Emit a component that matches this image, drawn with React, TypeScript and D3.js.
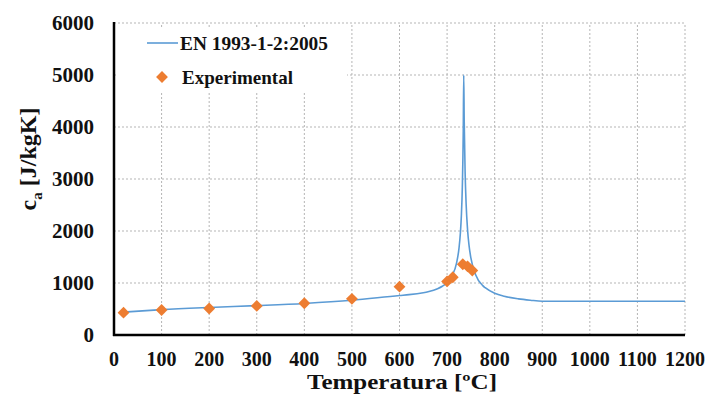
import React from "react";
import * as d3 from "d3";

const enTemps = [20, 100, 200, 300, 400, 500, 600, 620, 650, 660, 680, 690, 700, 710, 720, 725, 728, 730, 732, 734, 735, 736, 738, 740, 743, 746, 750, 760, 775, 780, 800, 820, 850, 875, 900, 1200];
const enValues = [440, 488, 530, 565, 606, 667, 760, 776, 814, 833, 890, 937, 1008, 1130, 1388, 1666, 1966, 2291, 2833, 3917, 5000, 4109, 3091, 2525, 2030, 1733, 1483, 1160, 950, 909, 803, 745, 695, 669, 650, 650];

const expTemps = [20, 100, 200, 300, 400, 500, 600, 700, 712, 733, 743, 753];
const expValues = [430, 480, 510, 560, 610, 695, 930, 1030, 1110, 1360, 1320, 1240];

const xTicks = [0, 100, 200, 300, 400, 500, 600, 700, 800, 900, 1000, 1100, 1200];
const yTicks = [0, 1000, 2000, 3000, 4000, 5000, 6000];

const W = 711;
const H = 399;
const FONT = "Liberation Serif, Times New Roman, serif";

export default function App() {
  const x = d3.scaleLinear().domain([0, 1200]).range([114, 685]);
  const y = d3.scaleLinear().domain([0, 6000]).range([335, 23]);

  const line = d3
    .line<number>()
    .x((_, i) => x(enTemps[i]))
    .y((d) => y(d))
    .curve(d3.curveMonotoneX);

  const marker = d3.symbol().type(d3.symbolSquare).size(70)() as string;
  const txt = { fontFamily: FONT, fontWeight: 700 as const };

  return (
    <svg
      width={W}
      height={H}
      style={{ position: "absolute", left: 0, top: 0, background: "#fff" }}
    >
      <rect width={W} height={H} fill="#fff" />
      {yTicks.filter((t) => t > 0).map((t) => (
        <line
          key={"gy" + t}
          x1={x(0)}
          x2={x(1200)}
          y1={y(t)}
          y2={y(t)}
          stroke="#b5b5b5"
          strokeWidth={1}
          strokeDasharray="2,2"
        />
      ))}
      {xTicks.filter((t) => t > 0).map((t) => (
        <line
          key={"gx" + t}
          x1={x(t)}
          x2={x(t)}
          y1={y(0)}
          y2={y(6000)}
          stroke="#b5b5b5"
          strokeWidth={1}
          strokeDasharray="2,2"
        />
      ))}
      <rect x={117} y={27} width={230} height={66} fill="#fff" />
      <line x1={x(0)} x2={x(0)} y1={y(6000) - 1} y2={y(0) + 1} stroke="#000" strokeWidth={2.5} />
      <line x1={x(0) - 1} x2={x(1200)} y1={y(0)} y2={y(0)} stroke="#000" strokeWidth={2.5} />
      <path d={line(enValues) || ""} fill="none" stroke="#5b9bd5" strokeWidth={1.6} />
      {expTemps.map((t, i) => (
        <path
          key={"e" + i}
          d={marker}
          transform={`translate(${x(t)},${y(expValues[i])}) rotate(45)`}
          fill="#ed7d31"
        />
      ))}
      {yTicks.map((t) => (
        <text
          key={"ty" + t}
          x={94}
          y={y(t)}
          dy="0.35em"
          textAnchor="end"
          fontSize={21}
          style={txt}
          fill="#111"
        >
          {t}
        </text>
      ))}
      {xTicks.map((t) => (
        <text
          key={"tx" + t}
          x={x(t)}
          y={366}
          textAnchor="middle"
          fontSize={20}
          style={txt}
          fill="#111"
        >
          {t}
        </text>
      ))}
      <text x={307} y={389} fontSize={21} style={txt} fill="#111" textLength={190} lengthAdjust="spacingAndGlyphs">
        Temperatura [ºC]
      </text>
      <text
        transform="translate(28,159) rotate(-90)"
        textAnchor="middle"
        dy="0.35em"
        fontSize={24}
        style={txt}
        fill="#111"
      >
        c<tspan fontSize={15} dy="6">a</tspan>
        <tspan dy="-6"> [J/kgK]</tspan>
      </text>
      <line x1={147} x2={178} y1={43} y2={43} stroke="#5b9bd5" strokeWidth={1.6} />
      <text x={180} y={43} dy="0.35em" fontSize={19} style={txt} fill="#111" textLength={148} lengthAdjust="spacingAndGlyphs">
        EN 1993-1-2:2005
      </text>
      <path d={marker} transform="translate(162,77) rotate(45)" fill="#ed7d31" />
      <text x={182} y={77} dy="0.35em" fontSize={19} style={txt} fill="#111" textLength={111} lengthAdjust="spacingAndGlyphs">
        Experimental
      </text>
    </svg>
  );
}
